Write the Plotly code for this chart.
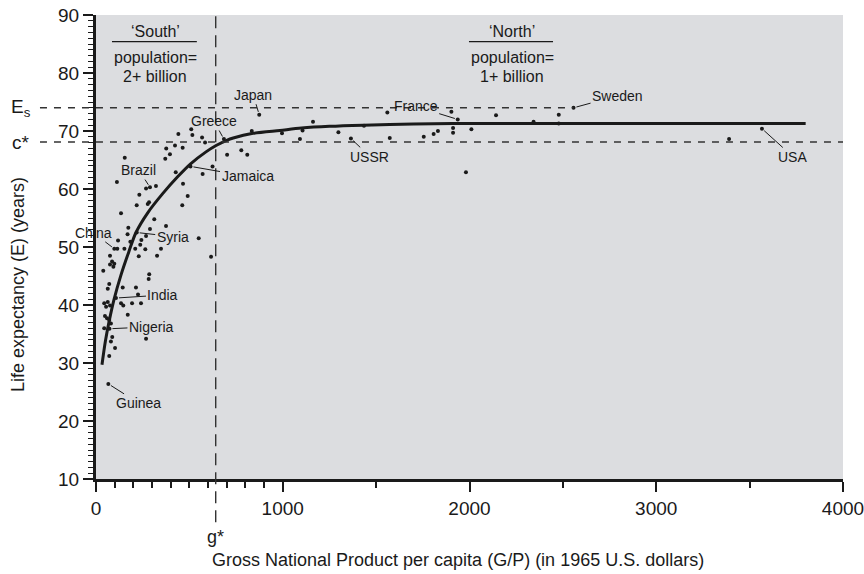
import plotly.graph_objects as go

# ---------------- data ----------------
gnp = [834, 996, 1092, 1106, 510, 441, 516, 568, 584, 423, 376, 464, 396, 371, 154,
       624, 571, 427, 112, 466, 321, 268, 232, 491, 284, 277, 218, 462, 134, 312,
       702, 778, 810, 1162, 1298, 1435, 1560, 1573, 1755, 1808, 1831, 1903, 1912,
       1912, 2010, 1981, 2142, 2343, 2478, 2478, 3390,
       375, 289, 173, 169, 268, 118, 243, 184, 550, 114, 152, 210, 264, 348, 237,
       229, 327, 75, 616, 86, 98, 93, 75, 39, 285, 282, 71, 63, 143, 214, 225,
       44, 63, 75, 54, 134, 146, 193, 241, 170, 48, 59, 71, 80, 44, 268, 87, 80,
       102, 71]
life = [70.0, 69.6, 68.6, 70.1, 70.3, 69.5, 69.3, 68.9, 68.0, 67.5, 67.0, 67.1, 66.0, 65.2, 65.4,
        63.9, 62.6, 62.9, 61.2, 60.9, 60.5, 60.1, 59.0, 58.8, 57.7, 57.4, 57.2, 57.2, 55.8, 54.8,
        65.9, 66.7, 65.9, 71.6, 69.8, 70.9, 73.2, 68.8, 69.0, 69.5, 70.0, 73.3, 70.5,
        69.7, 70.3, 62.9, 72.7, 71.6, 72.8, 71.3, 68.6,
        53.6, 53.1, 53.3, 52.2, 51.9, 51.1, 51.2, 50.9, 51.5, 49.7, 49.7, 49.7, 49.6, 49.7, 50.4,
        48.4, 48.5, 48.5, 48.3, 47.5, 47.1, 46.6, 47.0, 45.9, 45.3, 44.5, 43.6, 42.8, 43.0, 43.0, 41.8,
        40.3, 40.5, 39.9, 39.7, 40.3, 39.9, 40.3, 40.3, 38.3, 38.1, 37.7, 37.4, 36.8, 36.0, 34.2, 34.5, 33.7,
        32.6, 31.2]

label_names = ["Japan", "Greece", "Jamaica", "Brazil", "China", "Syria", "India",
               "Nigeria", "Guinea", "France", "USSR", "Sweden", "USA"]
label_gnp = [874, 685, 506, 289, 98, 218, 107, 72, 66, 1937, 1365, 2557, 3566]
label_life = [72.8, 68.6, 63.9, 60.3, 49.7, 52.5, 41.2, 35.9, 26.4, 72.0, 68.7, 74.0, 70.4]

curve_gnp = [32, 50, 71, 96, 134, 176, 214, 277, 357, 437, 505, 589, 643, 700, 735, 841,
             985, 1100, 1250, 1430, 1700, 2000, 3000, 3800]
curve_life = [29.7, 33.7, 37.3, 40.9, 45.2, 49.2, 52.5, 55.9, 59.2, 62.1, 64.3, 66.4, 67.5, 68.4, 68.8, 69.6,
              70.1, 70.5, 70.8, 71.0, 71.2, 71.3, 71.3, 71.3]

x_ticks = [0, 1000, 2000, 3000, 4000]
x_minor = [100, 200, 300, 400, 500, 600, 700, 800, 900, 1500, 2500, 3500]
y_ticks = [10, 20, 30, 40, 50, 60, 70, 80, 90]

g_star = 641
c_star = 68.1
e_s = 74.0

# ---------------- styling ----------------
FONT = "Liberation Sans, Arial, sans-serif"
INK = "#1a1a1a"
X_MAX, Y_MIN, Y_MAX = 4000, 10, 90

label_offsets = {
    "Japan": (-6, -20), "Greece": (-10, -18), "Jamaica": (57, 10), "Brazil": (-11, -17),
    "China": (-21, -16), "Syria": (36, 4), "India": (47, -3), "Nigeria": (42, -2),
    "Guinea": (30, 19), "France": (-42, -13), "USSR": (19, 18), "Sweden": (44, -12),
    "USA": (31, 28),
}

fig = go.Figure()

fig.add_trace(go.Scatter(x=curve_gnp, y=curve_life, mode="lines",
                         line=dict(color=INK, width=3, shape="spline", smoothing=0.8),
                         hoverinfo="skip", showlegend=False))
fig.add_trace(go.Scatter(x=gnp, y=life, mode="markers",
                         marker=dict(color=INK, size=4), showlegend=False))
fig.add_trace(go.Scatter(x=label_gnp, y=label_life, mode="markers", text=label_names,
                         marker=dict(color=INK, size=4), showlegend=False))

annotations = []
for name, gx, ly in zip(label_names, label_gnp, label_life):
    ax, ay = label_offsets[name]
    annotations.append(dict(x=gx, y=ly, xref="x", yref="y", text=name, showarrow=True,
                            arrowhead=0, arrowwidth=1, arrowcolor=INK, ax=ax, ay=ay,
                            standoff=3, startstandoff=1, borderpad=0,
                            font=dict(family=FONT, size=14, color=INK)))

def txt(x, y, s, size=17, xref="x", yref="y", angle=0):
    annotations.append(dict(x=x, y=y, xref=xref, yref=yref, text=s, showarrow=False,
                            textangle=angle, xanchor="center", yanchor="middle",
                            font=dict(family=FONT, size=size, color=INK)))

south_x, north_x = 316, 2228
for cx, top, bottom in [(south_x, "\u2018South\u2019", "2+ billion"),
                        (north_x, "\u2018North\u2019", "1+ billion")]:
    txt(cx, 87.1, top, size=16)
    txt(cx, 82.75, "population=", size=16)
    txt(cx, 79.4, bottom, size=16)

txt(-0.1, e_s, "E<sub>s</sub>", size=19, xref="paper")
txt(-0.1, c_star, "c*", size=19, xref="paper")
txt(g_star, -0.125, "g*", size=18, yref="paper")
txt(0.484, -0.175, "Gross National Product per capita (G/P) (in 1965 U.S. dollars)", size=18,
    xref="paper", yref="paper")
txt(-0.1044, 0.418, "Life expectancy (E) (years)", size=18, xref="paper", yref="paper", angle=-90)

dash_line = dict(color="#333333", width=1.4, dash="7px,7px")
shapes = [
    dict(type="line", xref="paper", yref="y", x0=-0.075, x1=label_gnp[label_names.index("Sweden")] / X_MAX,
         y0=e_s, y1=e_s, line=dash_line),
    dict(type="line", xref="paper", yref="y", x0=-0.075, x1=1.0, y0=c_star, y1=c_star, line=dash_line),
    dict(type="line", xref="x", yref="paper", x0=g_star, x1=g_star, y0=-0.093, y1=1.0,
         line=dict(color="#333333", width=1.4, dash="12px,7px")),
    dict(type="line", xref="paper", yref="paper", x0=0.0214, x1=0.135, y0=0.9425, y1=0.9425,
         line=dict(color=INK, width=1.2)),
    dict(type="line", xref="paper", yref="paper", x0=0.4993, x1=0.6118, y0=0.9425, y1=0.9425,
         line=dict(color=INK, width=1.2)),
]

fig.update_layout(
    width=864, height=574,
    margin=dict(l=96, r=21, t=15, b=95, autoexpand=False),
    paper_bgcolor="white", plot_bgcolor="#dcdde0",
    font=dict(family=FONT, color=INK),
    annotations=annotations, shapes=shapes,
    xaxis=dict(range=[0, X_MAX], tickmode="array", tickvals=x_ticks, ticks="outside",
               ticklen=10, tickwidth=2, tickcolor=INK, showline=True, linewidth=3,
               linecolor=INK, showgrid=False, zeroline=False, ticklabeloverflow="allow",
               tickfont=dict(family=FONT, size=19, color=INK),
               minor=dict(tickmode="array", tickvals=x_minor, ticks="outside", ticklen=6,
                          tickwidth=1.5, tickcolor=INK, showgrid=False)),
    yaxis=dict(range=[Y_MIN, Y_MAX], tickmode="array", tickvals=y_ticks, ticks="outside",
               ticklen=10, tickwidth=2, tickcolor=INK, showline=True, linewidth=3,
               linecolor=INK, showgrid=False, zeroline=False,
               tickfont=dict(family=FONT, size=19, color=INK),
               minor=dict(dtick=1, ticks="outside", ticklen=5, tickwidth=1,
                          tickcolor=INK, showgrid=False)),
)

fig.write_html("out.html", config={"displayModeBar": False},
               post_script="document.body.style.margin='0';document.body.style.overflow='hidden';")
